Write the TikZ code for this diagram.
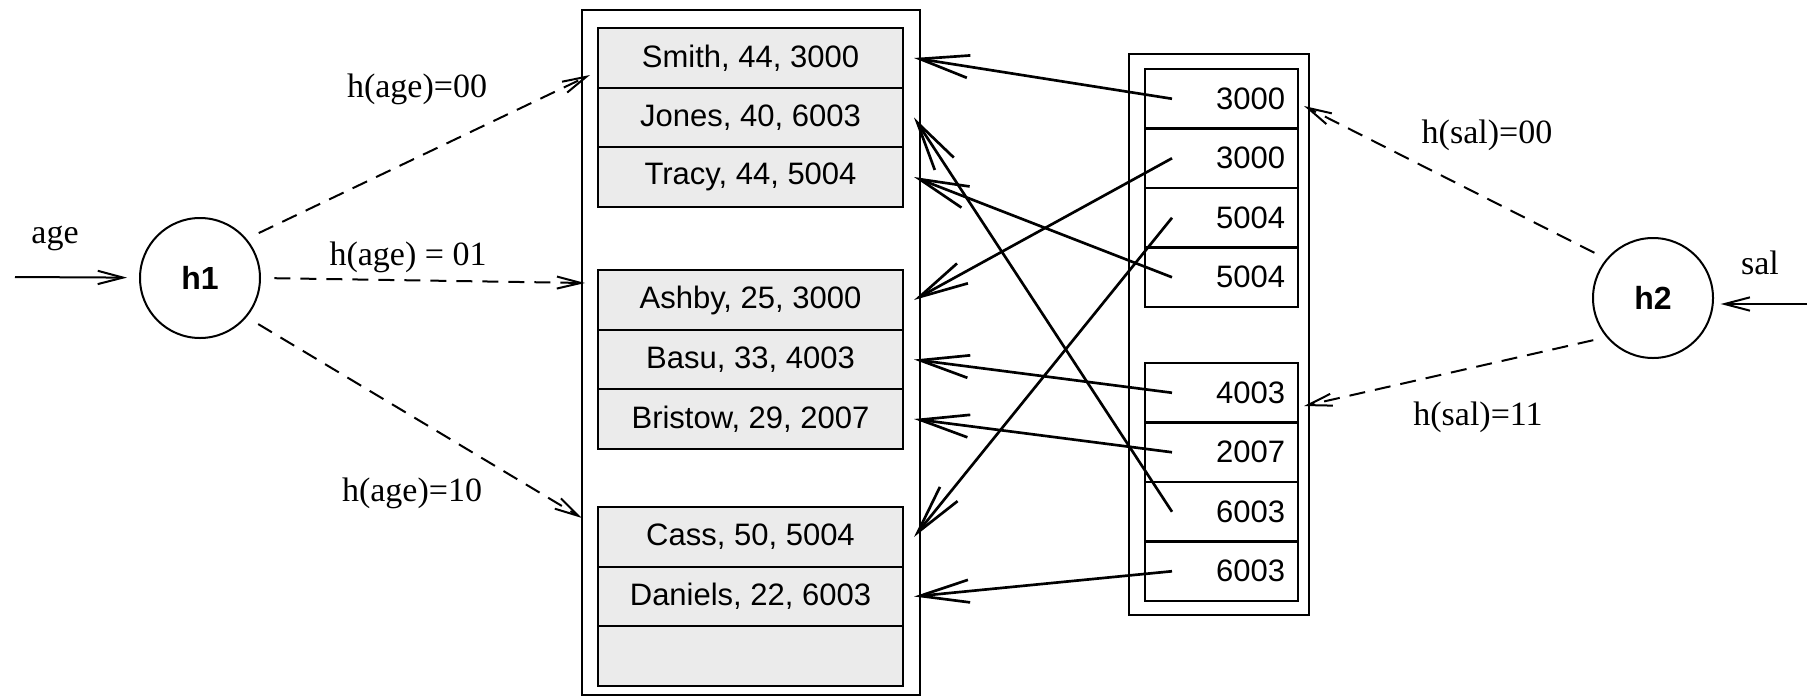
\documentclass[tikz,border=0pt]{standalone}
\usepackage{fontspec}
\setmainfont{Liberation Serif}
\setsansfont{Liberation Sans}
\usetikzlibrary{arrows.meta}

\tikzset{every picture/.style={line width=1.5pt}}
\tikzset{
  rec/.style={draw, fill=black!8, minimum width=228.75pt, minimum height=44.6pt, inner sep=0pt, font=\sffamily\fontsize{23.25}{28}\selectfont},
  salcell/.style={draw, minimum width=114.75pt, minimum height=44.6pt, inner ysep=0pt, inner xsep=9.75pt, text width=95.25pt, align=right, font=\sffamily\fontsize{23.25}{28}\selectfont},
  hashfn/.style={draw, circle, minimum size=90pt, inner sep=0pt, font=\sffamily\bfseries\fontsize{24}{28}\selectfont},
  lbl/.style={inner sep=0.75pt, font=\fontsize{25.5}{30}\selectfont},
  ptr/.style={line width=2pt, -{Straight Barb[length=37pt,width=17pt]}},
  hsh/.style={dash pattern=on 12pt off 7.5pt, -{Straight Barb[length=18pt,width=9pt]}},
  inarr/.style={-{Straight Barb[length=19pt,width=10pt]}}
}

\begin{document}
\begin{tikzpicture}[x=0.75pt,y=0.75pt,yscale=-1,xscale=1]
		\useasboundingbox (0,0) rectangle (1816,697);

		%Shape: Rectangle [file by age]
		\draw (582,10) rectangle (920,695);
		%Shape: Rectangle [index by sal]
		\draw (1129,54) rectangle (1309,615);

		% Records, bucket 00
		\node[rec] (smith) at (750.5,58) {Smith, 44, 3000};
		\node[rec] (jones) at (750.5,117.5) {Jones, 40, 6003};
		\node[rec] (tracy) at (750.5,177) {Tracy, 44, 5004};
		% Records, bucket 01
		\node[rec] (ashby) at (750.5,300) {Ashby, 25, 3000};
		\node[rec] (basu) at (750.5,359.5) {Basu, 33, 4003};
		\node[rec] (bristow) at (750.5,419) {Bristow, 29, 2007};
		% Records, bucket 10
		\node[rec] (cass) at (750.5,537) {Cass, 50, 5004};
		\node[rec] (daniels) at (750.5,596.5) {Daniels, 22, 6003};
		\node[rec] (emptyrec) at (750.5,656) {};

		% Index entries, bucket 00
		\node[salcell] (sal1) at (1221.5,98.75) {3000};
		\node[salcell] (sal2) at (1221.5,158.25) {3000};
		\node[salcell] (sal3) at (1221.5,217.75) {5004};
		\node[salcell] (sal4) at (1221.5,277.25) {5004};
		% Index entries, bucket 11
		\node[salcell] (sal5) at (1221.5,392.75) {4003};
		\node[salcell] (sal6) at (1221.5,452.25) {2007};
		\node[salcell] (sal7) at (1221.5,511.75) {6003};
		\node[salcell] (sal8) at (1221.5,571.25) {6003};

		%Shape: Circle
		\node[hashfn] (h1) at (200,278) {h1};
		\node[hashfn] (h2) at (1653,298) {h2};

		\coordinate (agein) at (15,277);
		\coordinate (salin) at (1807,304);
		\coordinate (a00) at (590,75);
		\coordinate (a01) at (585,283);
		\coordinate (a10) at (582,518);
		\coordinate (s00) at (1304,106);
		\coordinate (s11) at (1304,406);

		%Straight Lines
		\draw[inarr, shorten >=9pt] (agein) -- (h1);
		\draw[inarr, shorten >=5pt] (salin) -- (salin -| h2.east);
		\draw[hsh, shorten <=10pt] (h1.40) -- (a00);
		\draw[hsh, shorten <=10pt] (h1.east) -- (a01);
		\draw[hsh, shorten <=10pt] (h1.-40) -- (a10);
		\draw[hsh, shorten <=10pt] (h2.140) -- (s00);
		\draw[hsh, shorten <=10pt] (h2.220) -- (s11);

		%Straight Lines [index to records]
		\draw[ptr] ([xshift=21pt]sal1.west) -- ([xshift=7.5pt]smith.east);
		\draw[ptr] ([xshift=21pt]sal2.west) -- ([xshift=7.5pt]ashby.east);
		\draw[ptr] ([xshift=21pt]sal3.west) -- ([xshift=7.5pt]cass.east);
		\draw[ptr] ([xshift=21pt]sal4.west) -- ([xshift=7.5pt]tracy.east);
		\draw[ptr] ([xshift=21pt]sal5.west) -- ([xshift=7.5pt]basu.east);
		\draw[ptr] ([xshift=21pt]sal6.west) -- ([xshift=7.5pt]bristow.east);
		\draw[ptr] ([xshift=21pt]sal7.west) -- ([xshift=7.5pt]jones.east);
		\draw[ptr] ([xshift=21pt]sal8.west) -- ([xshift=7.5pt]daniels.east);

		% Text Node
		\node[lbl] (lage) at (55,238) {age};
		% Text Node
		\node[lbl] (lsal) at (1760,263) {sal};
		% Text Node
		\node[lbl] (l00) at (417,89) {h(age)=00};
		% Text Node
		\node[lbl] (l01) at (408,257) {h(age) = 01};
		% Text Node
		\node[lbl] (l10) at (412,493) {h(age)=10};
		% Text Node
		\node[lbl] (m00) at (1487,135) {h(sal)=00};
		% Text Node
		\node[lbl] (m11) at (1478,417) {h(sal)=11};
\end{tikzpicture}
\end{document}
